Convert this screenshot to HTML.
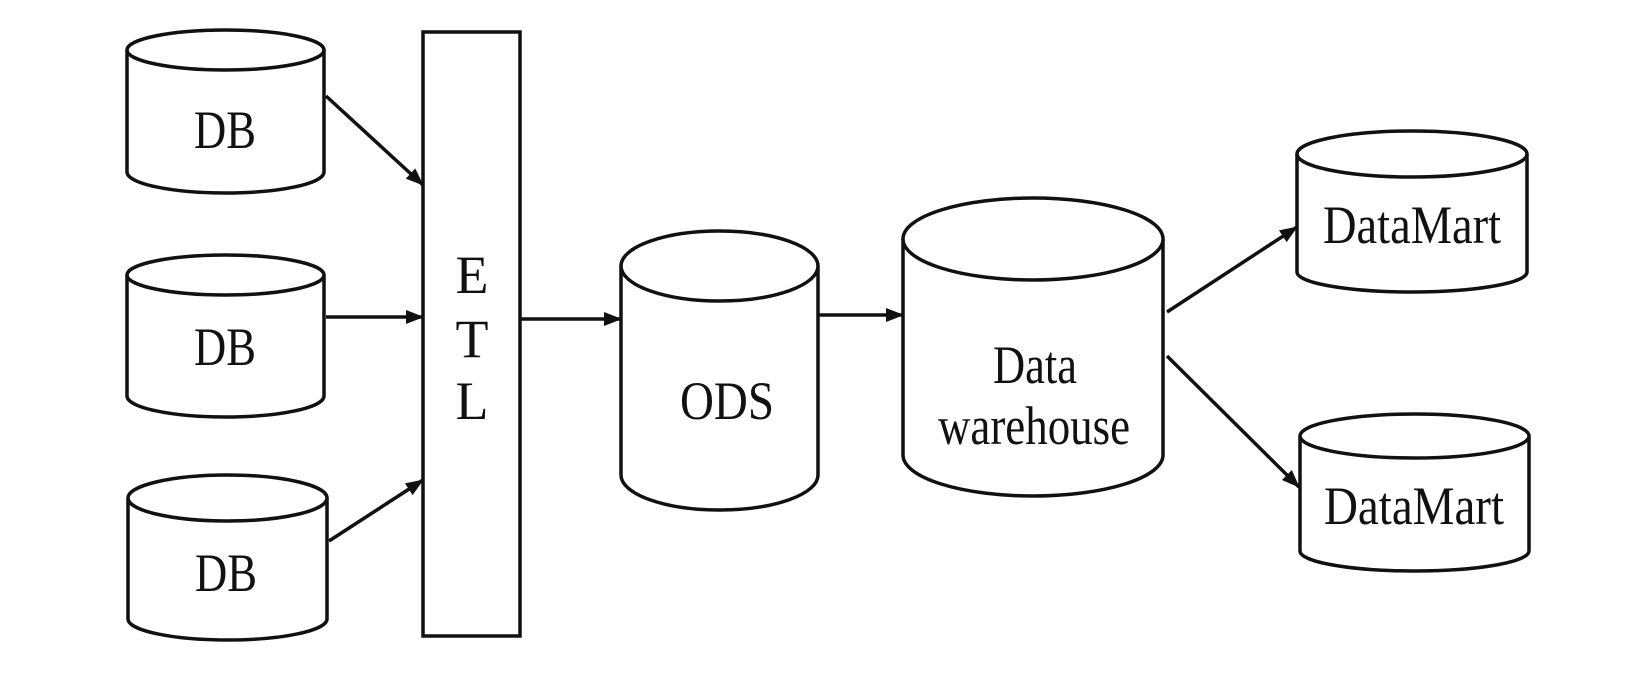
<!DOCTYPE html>
<html><head><meta charset="utf-8"><style>
html,body{margin:0;padding:0;background:#fff;}
svg{display:block;}
text{font-family:"Liberation Serif",serif;fill:#111;}
</style></head><body>
<svg width="1630" height="684" viewBox="0 0 1630 684" xmlns="http://www.w3.org/2000/svg">
<defs>
<marker id="a" markerWidth="18" markerHeight="14" refX="17" refY="7" orient="auto" markerUnits="userSpaceOnUse">
<path d="M0,0 L18,7 L0,14 Z" fill="#111"/>
</marker>
</defs>
<g fill="#fff" stroke="#111" stroke-width="3.5">
<path d="M127,50 L127,172 A98.5,21 0 0 0 324,172 L324,50"/>
<ellipse cx="225.5" cy="50" rx="98.5" ry="20"/>
<path d="M127,275 L127,396 A98.5,21 0 0 0 324,396 L324,275"/>
<ellipse cx="225.5" cy="275" rx="98.5" ry="20"/>
<path d="M128,498 L128,619 A99.5,21 0 0 0 327,619 L327,498"/>
<ellipse cx="227.5" cy="498" rx="99.5" ry="23"/>
<rect x="423" y="32" width="97" height="604"/>
<path d="M621,266 L621,475 A98.5,35 0 0 0 818,475 L818,266"/>
<ellipse cx="719.5" cy="266" rx="98.5" ry="35"/>
<path d="M903,239 L903,455 A130,41 0 0 0 1163,455 L1163,239"/>
<ellipse cx="1033" cy="239" rx="130" ry="41"/>
<path d="M1297,154 L1297,272 A115,20 0 0 0 1527,272 L1527,154"/>
<ellipse cx="1412" cy="154" rx="115" ry="23"/>
<path d="M1300,436 L1300,551 A114.5,20 0 0 0 1529,551 L1529,436"/>
<ellipse cx="1414.5" cy="436" rx="114.5" ry="22"/>
</g>
<g stroke="#111" stroke-width="3.5" fill="none" marker-end="url(#a)">
<line x1="326" y1="96" x2="423" y2="185"/>
<line x1="326" y1="317" x2="423" y2="317"/>
<line x1="329" y1="541" x2="423" y2="480"/>
<line x1="521" y1="319" x2="621" y2="319"/>
<line x1="818" y1="315" x2="903" y2="315"/>
<line x1="1167" y1="312" x2="1297" y2="227"/>
<line x1="1167" y1="356" x2="1299" y2="487"/>
</g>
<g font-size="54" text-anchor="middle">
<text x="225" y="148" textLength="62" lengthAdjust="spacingAndGlyphs">DB</text>
<text x="225" y="365" textLength="62" lengthAdjust="spacingAndGlyphs">DB</text>
<text x="226" y="591" textLength="62" lengthAdjust="spacingAndGlyphs">DB</text>
<text x="472" y="293">E</text>
<text x="472" y="357">T</text>
<text x="472" y="419">L</text>
<text x="727" y="419" textLength="94" lengthAdjust="spacingAndGlyphs">ODS</text>
<text x="1035" y="383" textLength="84" lengthAdjust="spacingAndGlyphs">Data</text>
<text x="1034" y="444" textLength="192" lengthAdjust="spacingAndGlyphs">warehouse</text>
<text x="1412" y="243" textLength="178" lengthAdjust="spacingAndGlyphs">DataMart</text>
<text x="1414" y="524" textLength="180" lengthAdjust="spacingAndGlyphs">DataMart</text>
</g>
</svg>
</body></html>
